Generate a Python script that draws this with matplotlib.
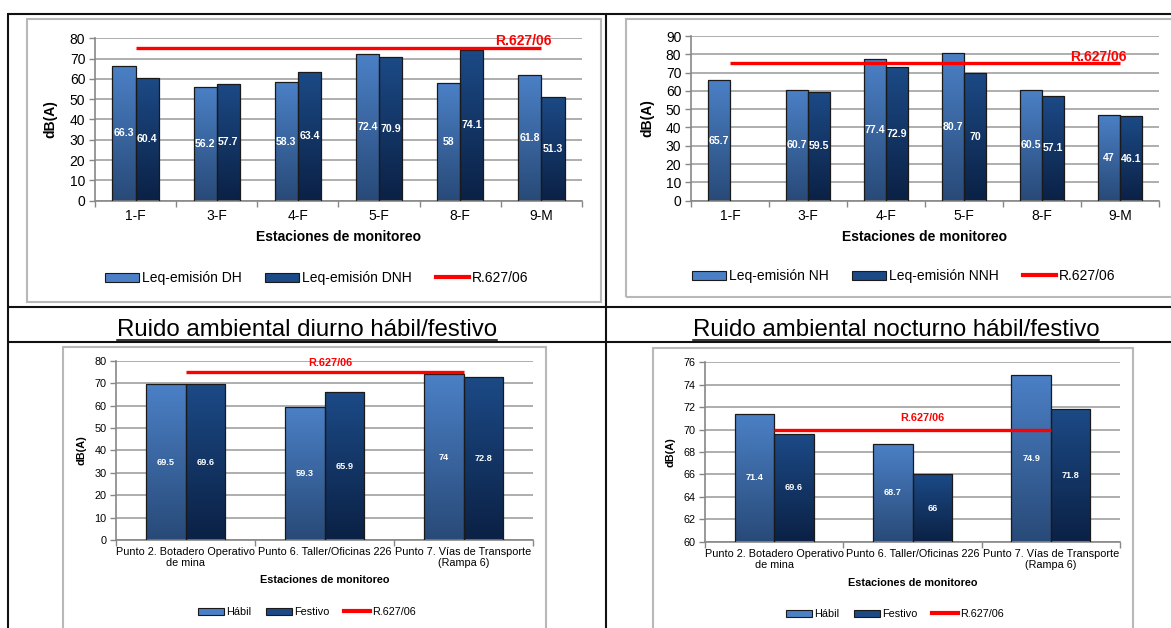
import numpy as np
import matplotlib
matplotlib.use('Agg')
import matplotlib.pyplot as plt
from matplotlib.colors import LinearSegmentedColormap
from matplotlib.patches import Rectangle, Patch
from matplotlib.lines import Line2D
from matplotlib import font_manager

W, H = 1171, 628

# --- data ---
est_top = ['1-F', '3-F', '4-F', '5-F', '8-F', '9-M']
leq_dh = [66.3, 56.2, 58.3, 72.4, 58, 61.8]
leq_dnh = [60.4, 57.7, 63.4, 70.9, 74.1, 51.3]
leq_nh = [65.7, 60.7, 77.4, 80.7, 60.5, 47]
leq_nnh = [np.nan, 59.5, 72.9, 70, 57.1, 46.1]
lim_top = [75, 75, 75, 75, 75, 75]

est_bot = ['Punto 2. Botadero Operativo\nde mina',
           'Punto 6. Taller/Oficinas 226',
           'Punto 7. Vías de Transporte\n(Rampa 6)']
habil_d = [69.5, 59.3, 74]
festivo_d = [69.6, 65.9, 72.8]
habil_n = [71.4, 68.7, 74.9]
festivo_n = [69.6, 66, 71.8]
lim_diurno = [75, 75, 75]
lim_nocturno = [70, 70, 70]

LIGHT = ('#4b80c6', '#284a78')   # top, bottom
DARK = ('#1c4a86', '#0b2145')
GRID = '#a8a8a8'
AXC = '#878787'
RED = '#ff0000'
BW = 1 / 3.5

plt.rcParams['font.family'] = ['Liberation Sans', 'DejaVu Sans']

fig = plt.figure(figsize=(W / 100, H / 100), dpi=100)


def px_axes(x0, y0, x1, y1):
    return fig.add_axes([x0 / W, 1 - y1 / H, (x1 - x0) / W, (y1 - y0) / H])


def px_line(xs, ys, **kw):
    fig.add_artist(Line2D([x / W for x in xs], [1 - y / H for y in ys], **kw))


def grad_bars(ax, x, vals, cols, ymin, vfs):
    bars = ax.bar(x, vals, width=BW, facecolor='none', edgecolor='#1a1a1a',
                  linewidth=0.9, zorder=3)
    cmap = LinearSegmentedColormap.from_list('g', [cols[1], cols[0]])
    for b, v in zip(bars, vals):
        if np.isnan(v):
            continue
        x0 = b.get_x()
        im = ax.imshow(np.linspace(0, 1, 128).reshape(-1, 1), cmap=cmap, origin='lower',
                       extent=[x0, x0 + b.get_width(), ymin, v], aspect='auto', zorder=2.5)
        im.set_clip_path(b)
        ax.text(x0 + b.get_width() / 2, (ymin + v) / 2, f'{v:g}', color='white',
                fontsize=vfs, fontweight='bold', ha='center', va='center', zorder=5)


def chart(rect, cats, s1, s2, names, lim, ylim, ystep, fs, vfs, xpad,
          lab_idx, lab_off, ylab_pos, xlab_y, leg_xy, leg_kw):
    ax = px_axes(*rect)
    n = len(cats)
    x = np.arange(n)
    grad_bars(ax, x - BW / 2, s1, LIGHT, ylim[0], vfs)
    grad_bars(ax, x + BW / 2, s2, DARK, ylim[0], vfs)
    ax.plot(x, lim, color=RED, lw=2.4, zorder=4, solid_capstyle='butt')
    ax.annotate('R.627/06', xy=(x[lab_idx], lim[lab_idx]), xytext=lab_off,
                textcoords='offset pixels', ha='center', va='center', color=RED,
                fontsize=fs, fontweight='bold', zorder=6)
    ax.set_xlim(-0.5, n - 0.5)
    ax.set_ylim(*ylim)
    ax.set_yticks(np.arange(ylim[0], ylim[1] + ystep / 2, ystep))
    ax.set_xticks(x)
    ax.set_xticklabels(cats, linespacing=1.15)
    ax.set_xticks(np.arange(-0.5, n), minor=True)
    ax.tick_params(axis='x', which='major', length=0, pad=xpad, labelsize=fs)
    ax.tick_params(axis='x', which='minor', length=4, color=AXC, width=1)
    ax.tick_params(axis='y', length=4, color=AXC, width=1, pad=3, labelsize=fs)
    ax.grid(axis='y', color=GRID, lw=1.3)
    ax.set_axisbelow(True)
    for s in ('top', 'right'):
        ax.spines[s].set_visible(False)
    for s in ('left', 'bottom'):
        ax.spines[s].set_color(AXC)
        ax.spines[s].set_linewidth(1.2)
    ax.set_ylabel('dB(A)', fontsize=fs, fontweight='bold')
    ax.yaxis.set_label_coords(*ylab_pos)
    ax.set_xlabel('Estaciones de monitoreo', fontsize=fs, fontweight='bold')
    ax.xaxis.set_label_coords(0.5, xlab_y)
    ax.xaxis.label.set_va('center')
    handles = [Patch(facecolor=LIGHT[0], edgecolor='#1a1a1a', lw=0.8),
               Patch(facecolor=DARK[0], edgecolor='#1a1a1a', lw=0.8),
               Line2D([], [], color=RED, lw=3)]
    fig.legend(handles, names + ['R.627/06'], loc='center',
               bbox_to_anchor=(leg_xy[0] / W, 1 - leg_xy[1] / H), ncol=3,
               frameon=False, fontsize=fs, borderpad=0, borderaxespad=0,
               handletextpad=0.25, **leg_kw)
    return ax


# chart frames (light grey boxes)
for x0, y0, x1, y1 in [(27, 19, 601, 302), (626, 19, 1190, 297),
                       (63, 347, 546, 640), (653, 348, 1133, 640)]:
    fig.add_artist(Rectangle((x0 / W, 1 - y1 / H), (x1 - x0) / W, (y1 - y0) / H,
                             transform=fig.transFigure, facecolor='none',
                             edgecolor='#b8b8b8', lw=1.5))

chart((95, 38.3, 582, 200.7), est_top, leq_dh, leq_dnh,
      ['Leq-emisión DH', 'Leq-emisión DNH'], lim_top, (0, 80), 10, 10, 7.6, 6,
      -1, (-18, 7), (-0.078, 0.5), -0.225, (317, 278),
      dict(handlelength=2.4, handleheight=0.6, columnspacing=1.7))
chart((691, 36, 1159, 200.7), est_top, leq_nh, leq_nnh,
      ['Leq-emisión NH', 'Leq-emisión NNH'], lim_top, (0, 90), 10, 10, 7.6, 6,
      -1, (-22, 6), (-0.078, 0.5), -0.22, (904, 276),
      dict(handlelength=2.4, handleheight=0.6, columnspacing=1.7))
chart((116, 360.7, 533, 540), est_bot, habil_d, festivo_d,
      ['Hábil', 'Festivo'], lim_diurno, (0, 80), 10, 7.8, 6.6, 5,
      1, (6, 9), (-0.07, 0.5), -0.223, (307, 612),
      dict(handlelength=2.4, handleheight=0.6, columnspacing=1.3))
chart((705, 362.3, 1120, 541.7), est_bot, habil_n, festivo_n,
      ['Hábil', 'Festivo'], lim_nocturno, (60, 76), 2, 7.8, 6.6, 5,
      1, (10, 12), (-0.07, 0.5), -0.232, (895, 614),
      dict(handlelength=2.4, handleheight=0.6, columnspacing=1.3))

# table rules
tl = dict(color='#111111', lw=1.5, solid_capstyle='butt')
px_line([7, W], [14, 14], **tl)
px_line([7, W], [307, 307], **tl)
px_line([7, W], [342, 342], **tl)
px_line([7.5, 7.5], [14, H], **tl)
px_line([606, 606], [14, H], **tl)

# captions
try:
    font_manager.findfont(font_manager.FontProperties(family='Liberation Sans Narrow'),
                          fallback_to_default=False)
    cap_font, cap_size = 'Liberation Sans Narrow', 21
except Exception:
    cap_font, cap_size = 'Liberation Sans', 17.3

renderer = fig.canvas.get_renderer()
for cx, txt in [(307, 'Ruido ambiental diurno hábil/festivo'),
                (896, 'Ruido ambiental nocturno hábil/festivo')]:
    t = fig.text(cx / W, 1 - 336 / H, txt, ha='center', va='baseline',
                 fontsize=cap_size, family=[cap_font, 'DejaVu Sans'])
    bb = t.get_window_extent(renderer)
    px_line([bb.x0, bb.x1], [340, 340], color='black', lw=1.1)

fig.savefig('out.png', dpi=100)
